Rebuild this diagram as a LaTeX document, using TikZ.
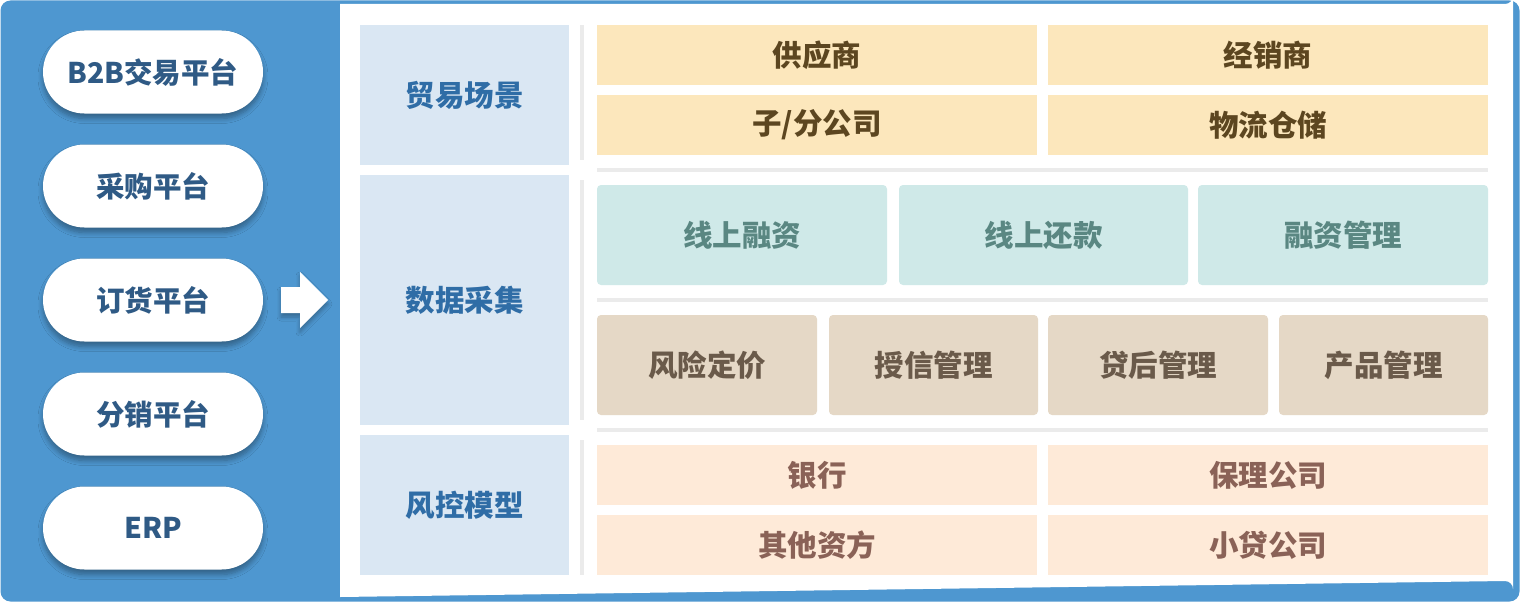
\documentclass[tikz,border=0pt]{standalone}
\usepackage{fontspec}
\setmainfont{Noto Sans CJK SC}
\usetikzlibrary{shadows.blur}
\definecolor{mainblue}{HTML}{4E97D0}
\definecolor{pilltext}{HTML}{2F5A85}
\definecolor{catbg}{HTML}{DAE7F3}
\definecolor{cattext}{HTML}{2F6DA6}
\definecolor{ybg}{HTML}{FCE7BC}
\definecolor{ytext}{HTML}{5C4620}
\definecolor{tbg}{HTML}{CFE9E8}
\definecolor{ttext}{HTML}{5A8782}
\definecolor{nbg}{HTML}{E5D8C6}
\definecolor{ntext}{HTML}{6A5A4A}
\definecolor{pbg}{HTML}{FEEAD8}
\definecolor{ptext}{HTML}{8A6257}
\definecolor{sep}{HTML}{EBEBEB}
\tikzset{
  pill/.style={fill=white, rounded corners=41.5pt, minimum width=220pt, minimum height=83pt, inner sep=0pt,
    text=pilltext, font=\fontsize{28.5}{30}\selectfont\bfseries,
    blur shadow={shadow xshift=0pt, shadow yshift=-5pt, shadow blur steps=8, shadow opacity=35, shadow blur radius=5pt}},
  cat/.style={fill=catbg, minimum width=209pt, inner sep=0pt, text=cattext, font=\fontsize{29.5}{31}\selectfont\bfseries},
  ybox/.style={fill=ybg, minimum width=440pt, minimum height=60pt, inner sep=0pt, text=ytext, font=\fontsize{29.5}{31}\selectfont\bfseries},
  tbox/.style={fill=tbg, rounded corners=4pt, minimum height=100pt, inner sep=0pt, text=ttext, font=\fontsize{29.5}{31}\selectfont\bfseries},
  nbox/.style={fill=nbg, rounded corners=4pt, minimum height=100pt, inner sep=0pt, text=ntext, font=\fontsize{29.5}{31}\selectfont\bfseries},
  pbox/.style={fill=pbg, minimum width=440pt, minimum height=60pt, inner sep=0pt, text=ptext, font=\fontsize{29.5}{31}\selectfont\bfseries},
  sepline/.style={fill=sep, draw=none}
}
\begin{document}
\begin{tikzpicture}[x=1pt,y=-1pt]
\useasboundingbox (0,0) rectangle (1520,602);
% outer blue frame
\fill[mainblue, rounded corners=10pt] (0.5,0.5) rectangle (1519.5,601.5);
% white panel
\fill[white] (340,4) -- (1505,4) arc[start angle=90, end angle=0, radius=8] -- (1513,589) arc[start angle=0, end angle=-90, radius=8] -- (340,597) -- cycle;
% pills
\node[pill] (p1) at (153,72) {B2B交易平台};
\node[pill] (p2) at (153,186) {采购平台};
\node[pill] (p3) at (153,300) {订货平台};
\node[pill] (p4) at (153,414) {分销平台};
\node[pill] (p5) at (153,528) {ERP};
% arrow
\fill[white, blur shadow={shadow xshift=0pt, shadow yshift=-4pt, shadow blur steps=6, shadow opacity=30, shadow blur radius=4pt}]
  (281,287) -- (300,287) -- (300,272) -- (328,300) -- (300,328) -- (300,313) -- (281,313) -- cycle;
% categories
\node[cat, minimum height=140pt] (c1) at (464.5,95) {贸易场景};
\node[cat, minimum height=250pt] (c2) at (464.5,300) {数据采集};
\node[cat, minimum height=140pt] (c3) at (464.5,505) {风控模型};
% separators
\fill[sepline] (580,25) rectangle (584,160);
\fill[sepline] (580,180) rectangle (584,420);
\fill[sepline] (580,440) rectangle (584,575);
\fill[sepline] (597,168) rectangle (1488,172);
\fill[sepline] (597,298) rectangle (1488,302);
\fill[sepline] (597,428) rectangle (1488,432);
% yellow
\node[ybox] (y1) at (817,55) {供应商};
\node[ybox] (y2) at (1268,55) {经销商};
\node[ybox] (y3) at (817,125) {子/分公司};
\node[ybox] (y4) at (1268,125) {物流仓储};
% teal
\node[tbox, minimum width=290pt] (t1) at (742,235) {线上融资};
\node[tbox, minimum width=289pt] (t2) at (1043.5,235) {线上还款};
\node[tbox, minimum width=290pt] (t3) at (1343,235) {融资管理};
% tan
\node[nbox, minimum width=220pt] (n1) at (707,365) {风险定价};
\node[nbox, minimum width=209pt] (n2) at (933.5,365) {授信管理};
\node[nbox, minimum width=220pt] (n3) at (1158,365) {贷后管理};
\node[nbox, minimum width=209pt] (n4) at (1383.5,365) {产品管理};
% peach
\node[pbox] (q1) at (817,475) {银行};
\node[pbox] (q2) at (1268,475) {保理公司};
\node[pbox] (q3) at (817,545) {其他资方};
\node[pbox] (q4) at (1268,545) {小贷公司};
\end{tikzpicture}
\end{document}
